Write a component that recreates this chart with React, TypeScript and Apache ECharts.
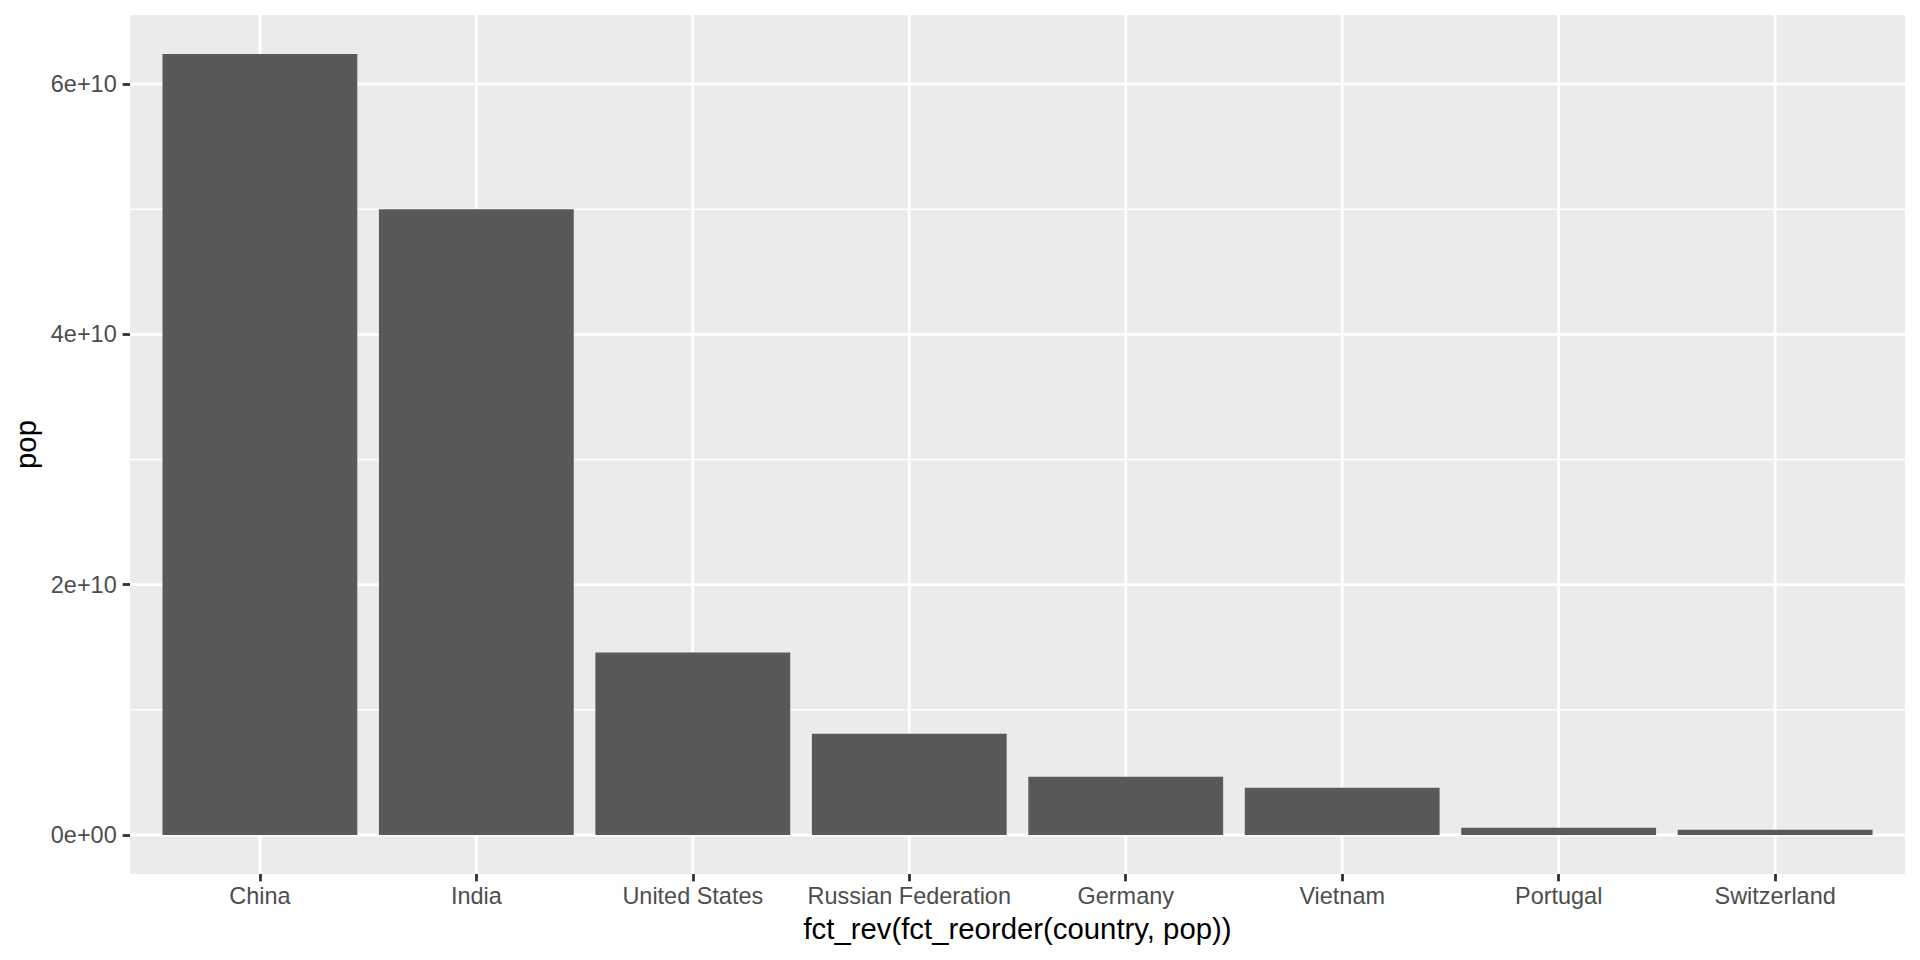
import React, { useEffect, useRef } from "react";
import * as echarts from "echarts";

const categories = [
  "China",
  "India",
  "United States",
  "Russian Federation",
  "Germany",
  "Vietnam",
  "Portugal",
  "Switzerland",
];
const popValues = [6.24e10, 5.0e10, 1.458e10, 0.808e10, 0.465e10, 0.377e10, 0.0575e10, 0.0415e10];
const yMajorTicks = [0, 2e10, 4e10, 6e10];
const yMinorTicks = [1e10, 3e10, 5e10];
const yTickLabels = ["0e+00", "2e+10", "4e+10", "6e+10"];

const FONT = "'Liberation Sans', Arial, Helvetica, sans-serif";
const PT = 192 / 72;
const MAJOR_W = 0.5 * 2.845 * 2;
const MINOR_W = MAJOR_W / 2;

export default function App() {
  const ref = useRef<HTMLDivElement>(null);
  useEffect(() => {
    if (!ref.current) return;
    const chart = echarts.init(ref.current, undefined, { renderer: "svg" });
    const maxVal = Math.max(...popValues);
    const yMin = -0.05 * maxVal;
    const yMax = maxVal * 1.05;
    const n = categories.length;
    const xIdx = categories.map((_, i) => i);

    const hLines = [
      ...yMinorTicks.map((v) => [v, MINOR_W]),
      ...yMajorTicks.map((v) => [v, MAJOR_W]),
    ];

    chart.setOption({
      animation: false,
      grid: {
        left: 130,
        right: 15,
        top: 15,
        bottom: 86,
        show: true,
        backgroundColor: "#EBEBEB",
        borderWidth: 0,
        containLabel: false,
      },
      xAxis: {
        type: "value",
        min: -0.6,
        max: n - 1 + 0.6,
        position: "bottom",
        name: "fct_rev(fct_reorder(country, pop))",
        nameLocation: "middle",
        nameGap: 40,
        nameTextStyle: { color: "#000000", fontSize: 11 * PT, fontFamily: FONT },
        axisLine: { show: false, onZero: false },
        splitLine: { show: false },
        axisTick: {
          show: true,
          customValues: xIdx,
          length: 2.75 * PT,
          lineStyle: { color: "#333333", width: MAJOR_W },
        },
        axisLabel: {
          customValues: xIdx,
          margin: 10,
          color: "#4D4D4D",
          fontSize: 8.8 * PT,
          fontFamily: FONT,
          formatter: (v: number) => categories[Math.round(v)] ?? "",
        },
      },
      yAxis: {
        type: "value",
        min: yMin,
        max: yMax,
        position: "left",
        name: "pop",
        nameLocation: "middle",
        nameGap: 84,
        nameTextStyle: { color: "#000000", fontSize: 11 * PT, fontFamily: FONT },
        axisLine: { show: false, onZero: false },
        splitLine: { show: false },
        axisTick: {
          show: true,
          customValues: yMajorTicks,
          length: 2.75 * PT,
          lineStyle: { color: "#333333", width: MAJOR_W },
        },
        axisLabel: {
          customValues: yMajorTicks,
          margin: 13.3,
          color: "#4D4D4D",
          fontSize: 8.8 * PT,
          fontFamily: FONT,
          formatter: (v: number) => {
            const i = yMajorTicks.indexOf(v);
            return i >= 0 ? yTickLabels[i] : "";
          },
        },
      },
      series: [
        {
          type: "custom",
          name: "hgrid",
          silent: true,
          data: hLines,
          encode: { y: 0 },
          renderItem: (params: any, api: any) => {
            const cs = params.coordSys;
            const y = api.coord([0, api.value(0)])[1];
            return {
              type: "line",
              shape: { x1: cs.x, y1: y, x2: cs.x + cs.width, y2: y },
              style: { stroke: "#FFFFFF", lineWidth: api.value(1) },
            };
          },
        },
        {
          type: "custom",
          name: "vgrid",
          silent: true,
          data: xIdx,
          encode: { x: 0 },
          renderItem: (params: any, api: any) => {
            const cs = params.coordSys;
            const x = api.coord([api.value(0), 0])[0];
            return {
              type: "line",
              shape: { x1: x, y1: cs.y, x2: x, y2: cs.y + cs.height },
              style: { stroke: "#FFFFFF", lineWidth: MAJOR_W },
            };
          },
        },
        {
          type: "custom",
          name: "pop",
          data: popValues.map((v, i) => [i, v]),
          encode: { x: 0, y: 1 },
          renderItem: (params: any, api: any) => {
            const i = api.value(0);
            const v = api.value(1);
            const p0 = api.coord([i - 0.45, v]);
            const p1 = api.coord([i + 0.45, 0]);
            return {
              type: "rect",
              shape: { x: p0[0], y: p0[1], width: p1[0] - p0[0], height: p1[1] - p0[1] },
              style: { fill: "#595959" },
            };
          },
        },
      ],
    });
    return () => chart.dispose();
  }, []);
  return <div ref={ref} style={{ width: 1920, height: 960, position: "absolute", left: 0, top: 0 }} />;
}
